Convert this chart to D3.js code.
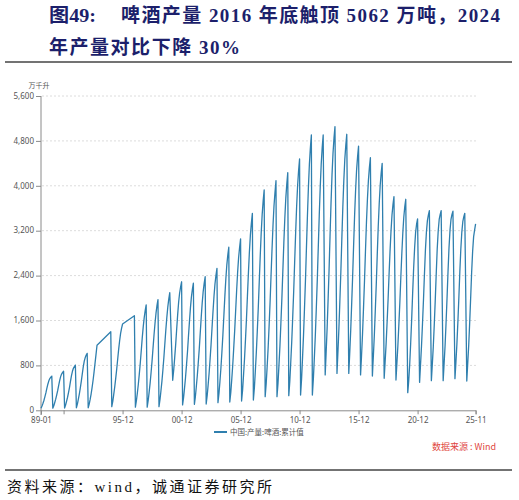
<!DOCTYPE html>
<html>
<head>
<meta charset="utf-8">
<title>啤酒产量</title>
<style type="text/css">
  body { margin: 0; background: #fff; }
  .title { font-family: "Liberation Serif", "Noto Sans CJK SC", serif; font-weight: bold; font-size: 19px; fill: #1c1f6b; }
  .tick text { font-family: "Noto Sans", "Noto Sans CJK SC", sans-serif; font-size: 8px; fill: #555; }
  .grid line { stroke: #dcdcdc; stroke-dasharray: 2,2; }
  .beer-line { fill: none; stroke: #2f7fae; stroke-width: 1.3px; stroke-linejoin: round; }
  .footer { font-family: "Liberation Serif", "Noto Sans CJK SC", serif; font-size: 15px; fill: #111; }
</style>
</head>
<body>
<div id="chart"></div>
<script src="https://d3js.org/d3.v7.min.js"></script>
<script>
// yearly cumulative production (万千升), one array per year, starting at firstMonth
var years = [1989, 1990, 1991, 1992, 1993, 1994, 1995, 1996, 1997, 1998, 1999,
             2000, 2001, 2002, 2003, 2004, 2005, 2006, 2007, 2008, 2009, 2010,
             2011, 2012, 2013, 2014, 2015, 2016, 2017, 2018, 2019, 2020, 2021,
             2022, 2023, 2024, 2025];
var firstMonth = [1, 1, 1, 1, 1, 12, 1, 12, 1, 1, 1,
                  3, 1, 1, 1, 1, 1, 1, 1, 1, 1, 1,
                  1, 1, 2, 2, 2, 2, 2, 2, 2, 2, 2,
                  2, 2, 2, 2];
var cumValues = [
  [37, 75, 120, 175, 240, 310, 390, 465, 525, 565, 590, 610],
  [37, 82, 135, 198, 270, 350, 440, 530, 600, 645, 675, 695],
  [40, 92, 155, 228, 312, 405, 510, 615, 695, 748, 780, 805],
  [45, 112, 195, 288, 395, 515, 645, 775, 875, 940, 985, 1015],
  [45, 110, 190, 290, 405, 535, 680, 840, 1000, 1160],
  [1400],
  [65, 160, 275, 410, 560, 725, 900, 1080, 1240, 1370, 1465, 1538],
  [1686],
  [55, 170, 300, 460, 640, 840, 1060, 1290, 1490, 1650, 1780, 1877],
  [55, 175, 315, 480, 670, 880, 1110, 1345, 1555, 1730, 1870, 1972],
  [65, 190, 335, 510, 710, 935, 1180, 1430, 1655, 1840, 1985, 2096],
  [535, 720, 935, 1175, 1440, 1700, 1930, 2090, 2200, 2290],
  [95, 230, 390, 580, 800, 1040, 1310, 1580, 1830, 2020, 2160, 2265],
  [107, 245, 415, 615, 845, 1095, 1375, 1660, 1920, 2120, 2265, 2380],
  [112, 260, 440, 655, 900, 1170, 1465, 1765, 2040, 2255, 2410, 2530],
  [135, 300, 505, 750, 1030, 1340, 1680, 2030, 2345, 2590, 2770, 2905],
  [148, 320, 535, 795, 1090, 1415, 1770, 2135, 2465, 2720, 2905, 3055],
  [165, 360, 610, 910, 1250, 1625, 2035, 2455, 2835, 3125, 3340, 3510],
  [183, 400, 680, 1015, 1395, 1815, 2275, 2745, 3170, 3495, 3735, 3925],
  [242, 470, 760, 1100, 1490, 1925, 2400, 2880, 3310, 3650, 3890, 4090],
  [242, 480, 780, 1135, 1540, 1990, 2480, 2980, 3430, 3780, 4035, 4234],
  [260, 510, 830, 1205, 1630, 2105, 2625, 3155, 3630, 4000, 4270, 4478],
  [273, 560, 910, 1320, 1790, 2310, 2880, 3460, 3980, 4385, 4680, 4906],
  [273, 565, 915, 1325, 1795, 2315, 2885, 3465, 3985, 4390, 4685, 4906],
  [630, 1010, 1450, 1950, 2500, 3100, 3700, 4200, 4580, 4850, 5054],
  [658, 1020, 1450, 1940, 2470, 3050, 3620, 4100, 4470, 4720, 4918],
  [658, 1000, 1410, 1880, 2390, 2940, 3480, 3930, 4280, 4520, 4706],
  [630, 960, 1350, 1800, 2290, 2820, 3340, 3770, 4100, 4330, 4500],
  [611, 940, 1320, 1760, 2240, 2760, 3270, 3690, 4010, 4230, 4400],
  [570, 850, 1175, 1550, 1960, 2400, 2830, 3200, 3480, 3670, 3806],
  [540, 830, 1150, 1520, 1920, 2360, 2790, 3160, 3440, 3630, 3760],
  [314, 520, 820, 1190, 1620, 2080, 2530, 2900, 3170, 3320, 3409],
  [498, 800, 1140, 1530, 1960, 2420, 2860, 3180, 3380, 3480, 3557],
  [527, 810, 1130, 1520, 1960, 2430, 2880, 3200, 3400, 3490, 3557],
  [527, 820, 1150, 1550, 2000, 2470, 2900, 3210, 3400, 3490, 3550],
  [563, 850, 1180, 1570, 2010, 2470, 2880, 3180, 3360, 3450, 3510],
  [522, 820, 1150, 1550, 2000, 2450, 2830, 3094, 3210, 3320]
];

var tickMonths = ["1989-01", "1990-12", "1995-12", "2000-12", "2005-12", "2010-12", "2015-12", "2020-12", "2025-11"];
var tickLabels = ["89-01", "", "95-12", "00-12", "05-12", "10-12", "15-12", "20-12", "25-11"];
var yTicks = [0, 800, 1600, 2400, 3200, 4000, 4800, 5600];

var width = 519, height = 500;
var parseMonth = d3.timeParse("%Y-%m");

// flatten the yearly arrays into monthly points
var points = [];
years.forEach(function (yr, i) {
  cumValues[i].forEach(function (v, j) {
    points.push({ date: new Date(yr, firstMonth[i] - 1 + j, 1), value: v });
  });
});

var svg = d3.select("#chart").append("svg")
    .attr("width", width)
    .attr("height", height);

// title
svg.append("text").attr("class", "title")
    .attr("x", 49).attr("y", 22)
    .attr("textLength", 47).attr("lengthAdjust", "spacingAndGlyphs")
    .text("图49:");
svg.append("text").attr("class", "title")
    .attr("x", 121).attr("y", 22)
    .attr("textLength", 379).attr("lengthAdjust", "spacing")
    .text("啤酒产量 2016 年底触顶 5062 万吨，2024");
svg.append("text").attr("class", "title")
    .attr("x", 49).attr("y", 54)
    .attr("textLength", 191).attr("lengthAdjust", "spacing")
    .text("年产量对比下降 30%");
svg.append("line")
    .attr("x1", 5).attr("x2", 512).attr("y1", 62).attr("y2", 62)
    .attr("stroke", "#444").attr("stroke-width", 1.5);

var x = d3.scaleTime()
    .domain([parseMonth("1989-01"), parseMonth("2025-11")])
    .range([41, 475.6]);
var y = d3.scaleLinear()
    .domain([0, 5600])
    .range([410.3, 96]);

// gridlines
svg.append("g").attr("class", "grid")
    .selectAll("line")
    .data(yTicks.slice(1))
    .enter().append("line")
    .attr("x1", 42).attr("x2", 477)
    .attr("y1", function (d) { return y(d); })
    .attr("y2", function (d) { return y(d); });

// axes
var yAxis = d3.axisLeft(y)
    .tickValues(yTicks)
    .tickSize(5)
    .tickPadding(2)
    .tickFormat(d3.format(","));
var gy = svg.append("g").attr("transform", "translate(41,0)").call(yAxis);
gy.select(".domain").attr("stroke", "#8a8a8a").attr("d", "M0,96V415");
gy.selectAll(".tick line").attr("stroke", "#8a8a8a");
gy.selectAll(".tick text").attr("dy", "0.28em");

var xAxis = d3.axisBottom(x)
    .tickValues(tickMonths.map(parseMonth))
    .tickSize(4)
    .tickPadding(3)
    .tickFormat(function (d, i) { return tickLabels[i]; });
var gx = svg.append("g").attr("transform", "translate(0,410.3)").call(xAxis);
gx.select(".domain").attr("stroke", "#8a8a8a");
gx.selectAll(".tick line").attr("stroke", "#8a8a8a");

svg.append("text")
    .attr("x", 39).attr("y", 88)
    .attr("text-anchor", "middle")
    .style("font-family", "'Noto Sans CJK SC', sans-serif")
    .style("font-size", "7px")
    .attr("fill", "#555")
    .text("万千升");

// series
var line = d3.line()
    .x(function (d) { return x(d.date); })
    .y(function (d) { return y(d.value); });
svg.append("path")
    .datum(points)
    .attr("class", "beer-line")
    .attr("d", line);

// legend
svg.append("line")
    .attr("x1", 214).attr("x2", 227).attr("y1", 432).attr("y2", 432)
    .attr("stroke", "#2f7fae").attr("stroke-width", 2);
svg.append("text")
    .attr("x", 230).attr("y", 434.5)
    .style("font-family", "'Noto Sans CJK SC', sans-serif")
    .style("font-size", "7.5px")
    .attr("fill", "#555")
    .text("中国:产量:啤酒:累计值");

svg.append("text")
    .attr("x", 496).attr("y", 450)
    .attr("text-anchor", "end")
    .style("font-family", "'Noto Sans CJK SC', sans-serif")
    .style("font-size", "9px")
    .attr("fill", "#e0463e")
    .text("数据来源 : Wind");

// footer
svg.append("line")
    .attr("x1", 5).attr("x2", 512).attr("y1", 470).attr("y2", 470)
    .attr("stroke", "#444").attr("stroke-width", 1.5);
svg.append("text").attr("class", "footer")
    .attr("x", 7).attr("y", 492)
    .attr("textLength", 265).attr("lengthAdjust", "spacing")
    .text("资料来源：wind，诚通证券研究所");
</script>
</body>
</html>
